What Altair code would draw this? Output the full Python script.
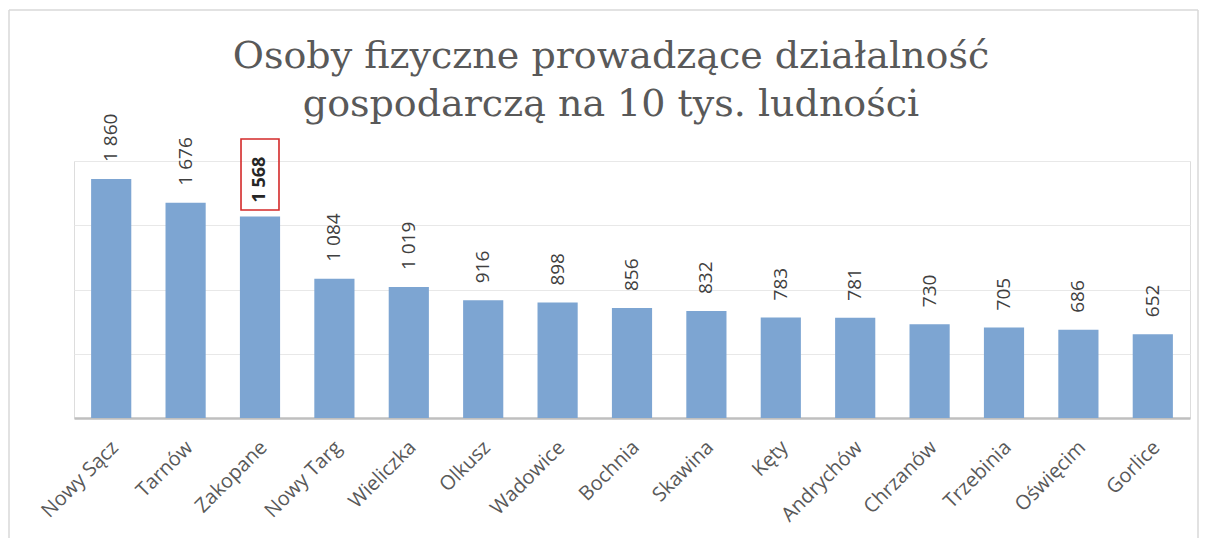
import altair as alt
import pandas as pd

cities = ["Nowy Sącz", "Tarnów", "Zakopane", "Nowy Targ", "Wieliczka", "Olkusz",
          "Wadowice", "Bochnia", "Skawina", "Kęty", "Andrychów", "Chrzanów",
          "Trzebinia", "Oświęcim", "Gorlice"]
values = [1860, 1676, 1568, 1084, 1019, 916, 898, 856, 832, 783, 781, 730, 705, 686, 652]
highlight = "Zakopane"
title_lines = ["Osoby fizyczne prowadzące działalność", "gospodarczą na 10 tys. ludności"]

df = pd.DataFrame({"city": cities, "value": values})

W, H = 1116, 257
PAD = {"left": 66, "top": 153, "right": 10, "bottom": 120}

x_enc = alt.X("city:N", sort=cities, title=None,
              scale=alt.Scale(paddingInner=0.46, paddingOuter=0.23),
              axis=alt.Axis(labelAngle=-45, labelAlign="right", labelBaseline="middle",
                            labelFont="Open Sans", labelFontSize=20, labelColor="#595959",
                            labelPadding=26, labelOffset=4, ticks=False,
                            domainColor="#bfbfbf", domainWidth=2.5, grid=False))
y_enc = alt.Y("value:Q", title=None,
              scale=alt.Scale(domain=[0, 2000], nice=False),
              axis=alt.Axis(values=[500, 1000, 1500, 2000], labels=False, ticks=False,
                            domain=False, grid=True, gridColor="#e8e8e8", gridWidth=1))

base = alt.Chart(df)

bars = base.mark_bar(color="#7da5d2").encode(x=x_enc, y=y_enc)

label_expr = "replace(format(datum.value, ','), ',', ' ')"

labels = base.transform_filter(f"datum.city != '{highlight}'").transform_calculate(
    lbl=label_expr
).mark_text(angle=270, align="left", baseline="middle", dx=17,
            font="Open Sans", fontSize=19, color="#404040").encode(
    x=alt.X("city:N", sort=cities), y="value:Q", text="lbl:N")

hl_label = base.transform_filter(f"datum.city == '{highlight}'").transform_calculate(
    lbl=label_expr
).mark_text(angle=270, align="left", baseline="middle", dx=14,
            font="Open Sans", fontSize=18, fontWeight="bold", color="#262626").encode(
    x=alt.X("city:N", sort=cities), y="value:Q", text="lbl:N")

hl_box = base.transform_filter(f"datum.city == '{highlight}'").mark_point(
    shape="M-0.535,-1H0.535V1H-0.535Z", size=5041, filled=False,
    stroke="#d42a2a", strokeWidth=1.6, opacity=1, yOffset=-42
).encode(x=alt.X("city:N", sort=cities), y="value:Q")

frame_col = "#d9d9d9"
one = pd.DataFrame({"k": [0]})
frame_left = alt.Chart(one).mark_rule(color=frame_col, strokeWidth=1.5).encode(
    x=alt.value(-65), y=alt.value(-151), y2=alt.value(380))
frame_top = alt.Chart(one).mark_rule(color=frame_col, strokeWidth=1.5).encode(
    x=alt.value(-65), x2=alt.value(1124), y=alt.value(-151))
frame_right = alt.Chart(one).mark_rule(color=frame_col, strokeWidth=1.5).encode(
    x=alt.value(1124), y=alt.value(-151), y2=alt.value(380))

title_style = dict(font="DejaVu Serif", fontSize=38, color="#595959",
                   align="center", baseline="alphabetic")
title1 = alt.Chart(one).mark_text(**title_style).encode(
    x=alt.value(537), y=alt.value(-93), text=alt.value(title_lines[0]))
title2 = alt.Chart(one).mark_text(**title_style).encode(
    x=alt.value(537), y=alt.value(-45), text=alt.value(title_lines[1]))

chart = alt.layer(bars, labels, hl_label, hl_box, frame_left, frame_top, frame_right,
                  title1, title2).properties(
    width=W, height=H,
    autosize=alt.AutoSizeParams(type="none"),
    padding=PAD,
).configure_view(stroke=None).configure(background="white")

chart.save("out.html", embed_options={"renderer": "svg", "actions": False})
